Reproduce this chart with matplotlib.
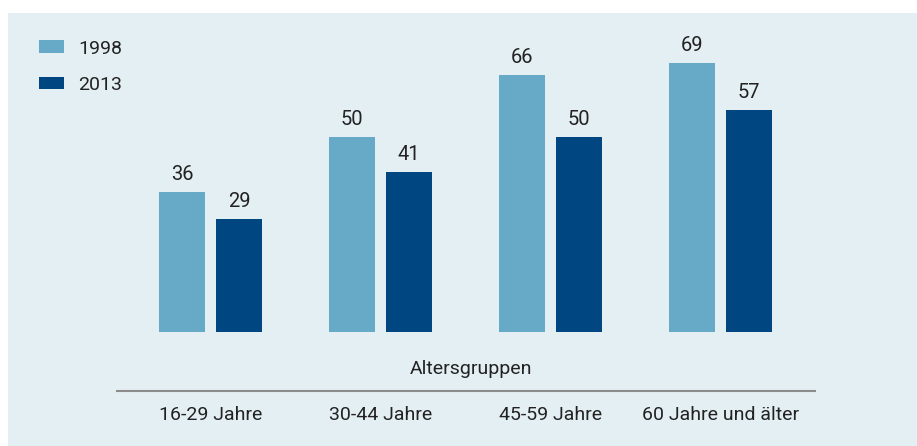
import matplotlib.pyplot as plt
from matplotlib.patches import Rectangle
from matplotlib.lines import Line2D
import numpy as np

groups = ["16-29 Jahre", "30-44 Jahre", "45-59 Jahre", "60 Jahre und älter"]
years = ["1998", "2013"]
vals_1998 = [36, 50, 66, 69]
vals_2013 = [29, 41, 50, 57]

plt.rcParams["font.family"] = ["Roboto", "DejaVu Sans"]

W, H = 917, 446
fig = plt.figure(figsize=(W / 100, H / 100), dpi=100)
fig.patch.set_facecolor("white")

bg = "#e4eff4"
c98 = "#67aac7"
c13 = "#004680"
txt = "#222222"

# panel background
fig.patches.append(Rectangle((8 / W, 0), 1 - 8 / W, (H - 13) / H,
                             transform=fig.transFigure, facecolor=bg,
                             edgecolor="none", zorder=-5))

ax_left, ax_right = 117, 815
ax_bottom, ax_top = 332, 30
ax = fig.add_axes([ax_left / W, (H - ax_bottom) / H,
                   (ax_right - ax_left) / W, (ax_bottom - ax_top) / H])
ax.set_facecolor("none")
ax.set_zorder(2)

x = np.arange(len(groups))
bw = 0.27
off = 0.168
b1 = ax.bar(x - off, vals_1998, bw, color=c98, label=years[0])
b2 = ax.bar(x + off, vals_2013, bw, color=c13, label=years[1])

for bars in (b1, b2):
    for r in bars:
        ax.annotate(f"{int(r.get_height())}",
                    (r.get_x() + r.get_width() / 2, r.get_height()),
                    xytext=(0, 5.5), textcoords="offset points",
                    ha="center", va="bottom", fontsize=14.5, color=txt)

ax.set_xlim(-0.55, 3.556)
ax.set_ylim(0, (ax_bottom - ax_top) / 3.9)
for s in ax.spines.values():
    s.set_visible(False)
ax.set_yticks([])
ax.set_xticks(x)
ax.set_xticklabels(groups, fontsize=14, color=txt)
ax.tick_params(axis="x", length=0, pad=53)

# separator line and axis title
fig.lines.append(Line2D([ax_left / W, ax_right / W], [(H - 391) / H] * 2,
                        transform=fig.transFigure, color="#8c8c8c", lw=1.5))
fig.text(471 / W, (H - 369) / H, "Altersgruppen", ha="center", va="center",
         fontsize=14, color=txt)

fig.legend(handles=[b1, b2], labels=years, loc="upper left",
           bbox_to_anchor=(21 / W, (H - 22) / H), frameon=False,
           fontsize=14, handlelength=1.3, handleheight=0.62,
           handletextpad=0.75, labelspacing=0.95, labelcolor=txt)

fig.savefig("out.png", dpi=100, facecolor="white")
